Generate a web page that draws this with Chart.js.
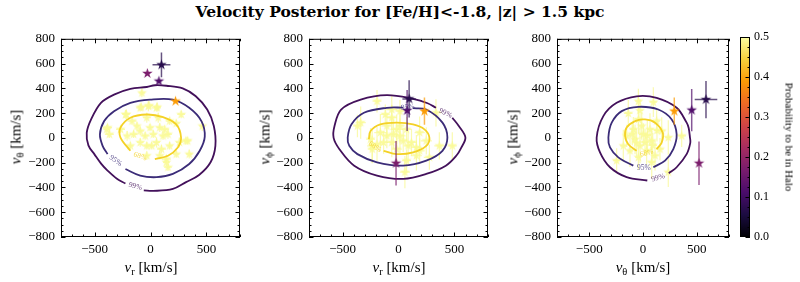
<!DOCTYPE html>
<html>
<head>
<meta charset="utf-8">
<title>Velocity Posterior</title>
<script src="https://cdn.jsdelivr.net/npm/chart.js@4.4.1/dist/chart.umd.min.js"></script>
<style>
  body { margin: 0; background: #fff; }
  #fig { position: relative; width: 800px; height: 282px; overflow: hidden; font-family: "Liberation Serif", serif; color: #000; }
  #fig canvas { position: absolute; top: 25px; }
  .txt { position: absolute; white-space: nowrap; line-height: 1; }
  .title { left: 0; width: 800px; top: 4px; text-align: center; font-family: "DejaVu Serif", serif; font-weight: bold; font-size: 15.5px; }
  .xl { top: 260px; font-size: 15px; transform: translateX(-50%); }
  .yl { top: 137px; font-size: 15px; transform: translate(-50%, -50%) rotate(-90deg); }
  .cl { top: 137px; left: 789px; font-size: 11px; transform: translate(-50%, -50%) rotate(90deg); }
  sub { font-size: 70%; vertical-align: -0.25em; line-height: 0; }
</style>
</head>
<body>
<div id="fig">
  <div class="txt title">Velocity Posterior for [Fe/H]&lt;-1.8, |z| &gt; 1.5 kpc</div>
  <canvas id="c1" width="250" height="257" style="left:0px"></canvas>
  <canvas id="c2" width="248" height="257" style="left:250px"></canvas>
  <canvas id="c3" width="240" height="257" style="left:498px"></canvas>
  <canvas id="cb" width="62" height="257" style="left:738px"></canvas>
  <div class="txt xl" style="left:151px"><i>v</i><sub>r</sub> [km/s]</div>
  <div class="txt xl" style="left:399px"><i>v</i><sub>r</sub> [km/s]</div>
  <div class="txt xl" style="left:643px"><i>v</i><sub>θ</sub> [km/s]</div>
  <div class="txt yl" style="left:16px"><i>v</i><sub>θ</sub> [km/s]</div>
  <div class="txt yl" style="left:265px"><i>v</i><sub>ϕ</sub> [km/s]</div>
  <div class="txt yl" style="left:513px"><i>v</i><sub>ϕ</sub> [km/s]</div>
  <div class="txt cl">Probability to be in Halo</div>
</div>
<script>
// axis ticks
const xTicks = [-500, 0, 500];
const yTicks = [-800, -600, -400, -200, 0, 200, 400, 600, 800];
const cbTicks = [0, 0.1, 0.2, 0.3, 0.4, 0.5];
const probMax = 0.5;

// ---- panel 1: v_r vs v_theta ----
const p1c68 = [[39,-171],[156,-144],[244,-77],[273,3],[230,109],[112,168],[-33,189],[-180,163],[-268,83],[-268,3],[-180,-104]];
const p1c95 = [[-224,-251],[-92,-304],[54,-317],[200,-291],[346,-211],[440,-104],[485,10],[455,136],[346,243],[200,309],[-4,309],[-180,283],[-326,216],[-414,136],[-452,29],[-428,-64],[-384,-131]];
const p1c99 = [[-60,-424],[25,-428],[200,-412],[318,-357],[434,-300],[537,-197],[580,-64],[566,96],[507,229],[405,336],[288,400],[142,421],[40,425],[-33,411],[-180,395],[-326,349],[-443,283],[-531,149],[-570,40],[-555,-60],[-502,-131],[-440,-210],[-384,-264],[-300,-330],[-224,-368]];
const p1LabX = [-92, -311, -136];
const p1LabY = [-150, -184, -392];
const p1LabRot = [20, 35, 15];
const p1StarX = [-77,-92,-19,54,-224,274,-384,463,317,346,142,156,-390,-368,-215,-83,-13,60,-165,-121,-33,-4,83,127,112,156,54,11,-48,-92,-151,-209,-180,-33,98,171,258,332,83,142,230,171,69,25,-92,-268,230,-33];
const p1StarY = [363,243,256,243,189,189,83,96,-24,-131,-197,-237,69,29,189,248,261,248,136,96,163,83,83,69,16,29,-37,-64,16,-37,29,16,-64,-64,-91,-64,-37,-24,-144,-171,117,136,163,29,56,69,-131,-144];
const p1StarXerr = [30,35,30,40,30,35,40,30,35,30,30,35,30,40,30,30,35,30,40,30,35,30,30,40,30,35,30,30,40,30,35,30,30,35,40,30,30,35,30,40,30,35,30,30,35,40,30,30];
const p1StarYerr = [35,30,40,30,35,30,30,40,30,35,30,30,35,30,40,30,30,35,30,30,40,30,35,30,30,35,40,30,30,35,30,40,30,30,35,30,40,30,30,35,30,30,40,30,35,30,30,35];
const p1HaloX = [98, -28, 75, 224];
const p1HaloY = [590, 520, 458, 296];
const p1HaloXerr = [80, 12, 12, 15];
const p1HaloYerr = [100, 12, 12, 15];
const p1HaloP = [0.07, 0.17, 0.12, 0.39];

// ---- panel 2: v_r vs v_phi ----
const p2c68 = [[-133,-104],[-16,-131],[130,-117],[248,-64],[276,3],[232,69],[130,109],[-16,123],[-162,109],[-250,56],[-265,-11]];
const p2c95 = [[130,240],[248,229],[393,123],[437,3],[393,-104],[248,-184],[42,-224],[-192,-197],[-367,-131],[-440,-64],[-454,3],[-420,110],[-309,203],[-104,243],[40,245]];
const p2c99 = [[481,163],[539,96],[598,3],[560,-80],[520,-140],[423,-224],[248,-291],[42,-331],[-192,-304],[-396,-224],[-528,-91],[-580,0],[-572,96],[-513,229],[-338,309],[-104,345],[130,315],[260,280],[335,243]];
const p2LabX = [-212, 83, 420];
const p2LabY = [-72, 248, 200];
const p2LabRot = [35, -5, 25];
const p2StarX = [-192,-60,-60,-118,335,-338,-367,-162,-104,-46,13,42,116,86,160,-60,-133,-192,-235,189,160,72,57,481,276,-235,13,-16,72,189,248,-250,-16,13,-104,365];
const p2StarY = [296,229,163,189,203,123,96,43,16,29,16,-24,-37,-64,-77,-37,-37,-51,-91,-104,-144,-184,-277,-64,-157,-64,216,69,69,43,-24,-11,-91,96,96,-64];
const p2StarXerr = [40,50,45,40,50,45,40,55,40,45,50,40,45,40,50,45,40,55,40,45,50,40,45,40,50,45,40,55,40,45,50,40,45,40,50,45];
const p2StarYerr = [90,120,100,80,110,130,90,150,100,120,140,90,110,130,100,120,90,140,110,100,120,90,130,110,100,140,90,120,100,130,110,90,120,140,100,110];
const p2HaloX = [95, 77, 232, -22];
const p2HaloY = [315, 221, 216, -205];
const p2HaloXerr = [60, 12, 12, 12];
const p2HaloYerr = [150, 165, 110, 180];
const p2HaloP = [0.07, 0.12, 0.39, 0.17];

// ---- panel 3: v_theta vs v_phi ----
const p3c68 = [[127,-91],[174,-37],[183,43],[112,123],[19,149],[-74,136],[-152,83],[-167,16],[-137,-51],[-59,-104]];
const p3c95 = [[96,-237],[205,-184],[282,-91],[313,29],[267,149],[142,229],[-43,251],[-198,216],[-291,123],[-322,3],[-307,-77],[-230,-157],[-90,-224]];
const p3c99 = [[240,-285],[313,-237],[406,-131],[440,-40],[437,3],[425,80],[406,123],[313,243],[127,323],[-59,336],[-245,283],[-369,176],[-431,3],[-400,-117],[-307,-237],[-152,-317],[40,-344]];
const p3LabX = [34, 9, 140];
const p3LabY = [-123, -245, -322];
const p3LabRot = [-15, 0, -15];
const p3StarX = [-43,96,-28,-137,-183,-245,235,360,235,-90,-12,65,3,-74,81,-28,34,158,112,-43,-121,174,-152,-43,127,19,81,-100,40,90,-60,130];
const p3StarY = [296,288,221,197,-64,-184,3,16,-277,69,96,69,29,-11,-24,-64,-104,-91,-144,-157,-104,56,16,149,136,-37,-197,30,20,-60,-40,60];
const p3StarXerr = [30,35,30,40,30,35,30,40,30,35,30,30,40,30,35,30,30,35,40,30,30,35,30,40,30,35,30,30,35,40,30,30];
const p3StarYerr = [100,120,90,110,130,100,140,90,120,100,110,130,90,120,100,140,110,90,120,100,130,110,90,120,100,110,130,90,120,100,110,90];
const p3HaloX = [291, 453, 586, 521];
const p3HaloY = [216, 224, 309, -205];
const p3HaloXerr = [12, 12, 105, 12];
const p3HaloYerr = [110, 170, 150, 175];
const p3HaloP = [0.39, 0.12, 0.07, 0.17];

const levelNames = ['68%', '95%', '99%'];
const levelColors = ['#f4d126', '#3b2c78', '#43115b'];
const infernoStops = ['#000004', '#1b0c41', '#4a0c6b', '#781c6d', '#a52c60', '#cf4446', '#ed6925', '#fb9b06', '#f7d13d', '#fcffa4'];
const paleStar = 'rgba(250,250,150,0.85)';
const paleErr = 'rgba(248,248,150,0.75)';
const tickFont = { family: '"Liberation Serif", serif', size: 13 };

function hex(h) { return [1, 3, 5].map(k => parseInt(h.slice(k, k + 2), 16)); }
function inferno(t) {
    t = Math.min(1, Math.max(0, t)) * (infernoStops.length - 1);
    const i = Math.min(Math.floor(t), infernoStops.length - 2), f = t - i;
    const a = hex(infernoStops[i]), b = hex(infernoStops[i + 1]);
    return a.map((v, k) => Math.round(v + (b[k] - v) * f));
}
function rgba(c, a) { return 'rgba(' + c[0] + ',' + c[1] + ',' + c[2] + ',' + a + ')'; }
function fmt(v) { return v < 0 ? '\u2212' + Math.abs(v) : String(v); }

// filled 5 point star, same proportions as the matplotlib '*' marker
const starCache = {};
function star(color, r) {
    const key = color + r;
    if (starCache[key]) return starCache[key];
    const c = document.createElement('canvas');
    const s = Math.ceil(r * 2) + 2;
    c.width = c.height = s;
    const g = c.getContext('2d');
    g.fillStyle = color;
    g.beginPath();
    for (let i = 0; i < 10; i++) {
        const rr = i % 2 ? r * 0.382 : r;
        const a = -Math.PI / 2 + i * Math.PI / 5;
        g.lineTo(s / 2 + rr * Math.cos(a), s / 2 + rr * Math.sin(a));
    }
    g.closePath();
    g.fill();
    starCache[key] = c;
    return c;
}

// frame + inward ticks on all four sides
function drawFrame(chart, xs, xMinor, ys, yMinor, sides) {
    const { ctx, chartArea: a, scales } = chart;
    ctx.save();
    ctx.strokeStyle = '#000';
    ctx.lineWidth = 1;
    ctx.strokeRect(a.left + 0.5, a.top + 0.5, a.width - 1, a.height - 1);
    ctx.beginPath();
    const tick = (vals, len, vertical) => vals.forEach(v => {
        if (vertical) {
            const px = Math.round(scales.x.getPixelForValue(v)) + 0.5;
            ctx.moveTo(px, a.bottom); ctx.lineTo(px, a.bottom - len);
            ctx.moveTo(px, a.top); ctx.lineTo(px, a.top + len);
        } else {
            const py = Math.round(scales.y.getPixelForValue(v)) + 0.5;
            if (sides.left) { ctx.moveTo(a.left, py); ctx.lineTo(a.left + len, py); }
            ctx.moveTo(a.right, py); ctx.lineTo(a.right - len, py);
        }
    });
    if (xs) { tick(xs, 4.5, true); tick(xMinor, 2.5, true); }
    tick(ys, 4.5, false); tick(yMinor, 2.5, false);
    ctx.stroke();
    ctx.restore();
}

function range(a, b, step) { const r = []; for (let v = a; v <= b + 1e-9; v += step) r.push(+v.toFixed(4)); return r; }

function makePanel(id, pad, d) {
    const pts = (xs, ys) => xs.map((x, i) => ({ x: x, y: ys[i] }));
    const contour = (pairs, k) => ({
        data: pairs.map(p => ({ x: p[0], y: p[1] })),
        showLine: true, borderColor: levelColors[k], borderWidth: 1.8,
        pointRadius: 0, tension: 0.35, fill: false
    });
    const haloCol = i => inferno(d.haloP[i] / probMax);
    const datasets = [
        {
            data: pts(d.haloX, d.haloY), xerr: d.haloXerr, yerr: d.haloYerr,
            errColor: i => rgba(haloCol(i), 0.7), errWidth: 1.5,
            pointRadius: 5, pointStyle: c => star(rgba(haloCol(c.dataIndex), 1), 5.5)
        },
        contour(d.c68, 0), contour(d.c95, 1), contour(d.c99, 2),
        {
            data: pts(d.starX, d.starY), xerr: d.starXerr, yerr: d.starYerr,
            errColor: () => paleErr, errWidth: 1.2,
            pointRadius: 5, pointStyle: star(paleStar, 5.3)
        }
    ];
    const deco = {
        id: 'deco' + id,
        beforeDatasetDraw(chart, args) {
            const ds = chart.data.datasets[args.index];
            if (!ds.yerr) return;
            const { ctx, chartArea: a, scales: { x, y } } = chart;
            ctx.save();
            ctx.beginPath(); ctx.rect(a.left, a.top, a.width, a.height); ctx.clip();
            ds.data.forEach((p, i) => {
                const px = x.getPixelForValue(p.x), py = y.getPixelForValue(p.y);
                ctx.strokeStyle = ds.errColor(i);
                ctx.lineWidth = ds.errWidth;
                ctx.beginPath();
                ctx.moveTo(x.getPixelForValue(p.x - ds.xerr[i]), py);
                ctx.lineTo(x.getPixelForValue(p.x + ds.xerr[i]), py);
                ctx.moveTo(px, y.getPixelForValue(p.y - ds.yerr[i]));
                ctx.lineTo(px, y.getPixelForValue(p.y + ds.yerr[i]));
                ctx.stroke();
            });
            ctx.restore();
        },
        afterDatasetsDraw(chart) {
            const { ctx, scales: { x, y } } = chart;
            ctx.save();
            ctx.font = '7.5px "Liberation Serif", serif';
            ctx.textAlign = 'center';
            ctx.textBaseline = 'middle';
            d.labX.forEach((lx, k) => {
                ctx.save();
                ctx.translate(x.getPixelForValue(lx), y.getPixelForValue(d.labY[k]));
                ctx.rotate(d.labRot[k] * Math.PI / 180);
                ctx.fillStyle = levelColors[k];
                ctx.globalAlpha = 0.8;
                ctx.fillText(levelNames[k], 0, 0);
                ctx.restore();
            });
            ctx.restore();
        },
        afterDraw(chart) {
            drawFrame(chart, xTicks, range(-800, 800, 100), yTicks, range(-800, 800, 50), { left: true });
        }
    };
    return new Chart(document.getElementById(id), {
        type: 'scatter',
        data: { datasets: datasets },
        options: {
            responsive: false, animation: false, events: [],
            layout: { padding: { left: pad[0], right: pad[1], top: 12, bottom: 25 } },
            plugins: { legend: { display: false }, tooltip: { enabled: false } },
            scales: {
                x: {
                    type: 'linear', min: -800, max: 800,
                    afterBuildTicks: s => { s.ticks = xTicks.map(v => ({ value: v })); },
                    afterFit: s => { s.height = 20; },
                    grid: { display: false, drawTicks: false }, border: { display: false },
                    ticks: { autoSkip: false, maxRotation: 0, padding: 5, font: tickFont, color: '#000', callback: fmt }
                },
                y: {
                    type: 'linear', min: -800, max: 800,
                    afterBuildTicks: s => { s.ticks = yTicks.map(v => ({ value: v })); },
                    afterFit: s => { s.width = 40; },
                    grid: { display: false, drawTicks: false }, border: { display: false },
                    ticks: { autoSkip: false, padding: 6, font: tickFont, color: '#000', callback: fmt }
                }
            }
        },
        plugins: [deco]
    });
}

makePanel('c1', [21, 10], {
    c68: p1c68, c95: p1c95, c99: p1c99, labX: p1LabX, labY: p1LabY, labRot: p1LabRot,
    starX: p1StarX, starY: p1StarY, starXerr: p1StarXerr, starYerr: p1StarYerr,
    haloX: p1HaloX, haloY: p1HaloY, haloXerr: p1HaloXerr, haloYerr: p1HaloYerr, haloP: p1HaloP
});
makePanel('c2', [19, 10], {
    c68: p2c68, c95: p2c95, c99: p2c99, labX: p2LabX, labY: p2LabY, labRot: p2LabRot,
    starX: p2StarX, starY: p2StarY, starXerr: p2StarXerr, starYerr: p2StarYerr,
    haloX: p2HaloX, haloY: p2HaloY, haloXerr: p2HaloXerr, haloYerr: p2HaloYerr, haloP: p2HaloP
});
makePanel('c3', [19, 9], {
    c68: p3c68, c95: p3c95, c99: p3c99, labX: p3LabX, labY: p3LabY, labRot: p3LabRot,
    starX: p3StarX, starY: p3StarY, starXerr: p3StarXerr, starYerr: p3StarYerr,
    haloX: p3HaloX, haloY: p3HaloY, haloXerr: p3HaloXerr, haloYerr: p3HaloYerr, haloP: p3HaloP
});

// Colour bar
new Chart(document.getElementById('cb'), {
    type: 'bar',
    data: {
        labels: [''],
        datasets: [{
            data: [[0, probMax]],
            backgroundColor: c => {
                const a = c.chart.chartArea;
                if (!a) return null;
                const g = c.chart.ctx.createLinearGradient(0, a.bottom, 0, a.top);
                infernoStops.forEach((col, i) => g.addColorStop(i / (infernoStops.length - 1), col));
                return g;
            },
            barPercentage: 1, categoryPercentage: 1, borderWidth: 0
        }]
    },
    options: {
        responsive: false, animation: false, events: [],
        layout: { padding: { left: 2, right: 0, top: 12, bottom: 45 } },
        plugins: { legend: { display: false }, tooltip: { enabled: false } },
        scales: {
            x: { display: false },
            y: {
                position: 'right', min: 0, max: probMax,
                afterBuildTicks: s => { s.ticks = cbTicks.map(v => ({ value: v })); },
                afterFit: s => { s.width = 50; },
                grid: { display: false, drawTicks: false }, border: { display: false },
                ticks: { padding: 4, font: { family: '"Liberation Serif", serif', size: 12 }, color: '#000', callback: v => v.toFixed(1) }
            }
        }
    },
    plugins: [{
        id: 'cbframe',
        afterDraw(chart) { drawFrame(chart, null, null, cbTicks, range(0, 0.5, 0.025), { left: false }); }
    }]
});
</script>
</body>
</html>
